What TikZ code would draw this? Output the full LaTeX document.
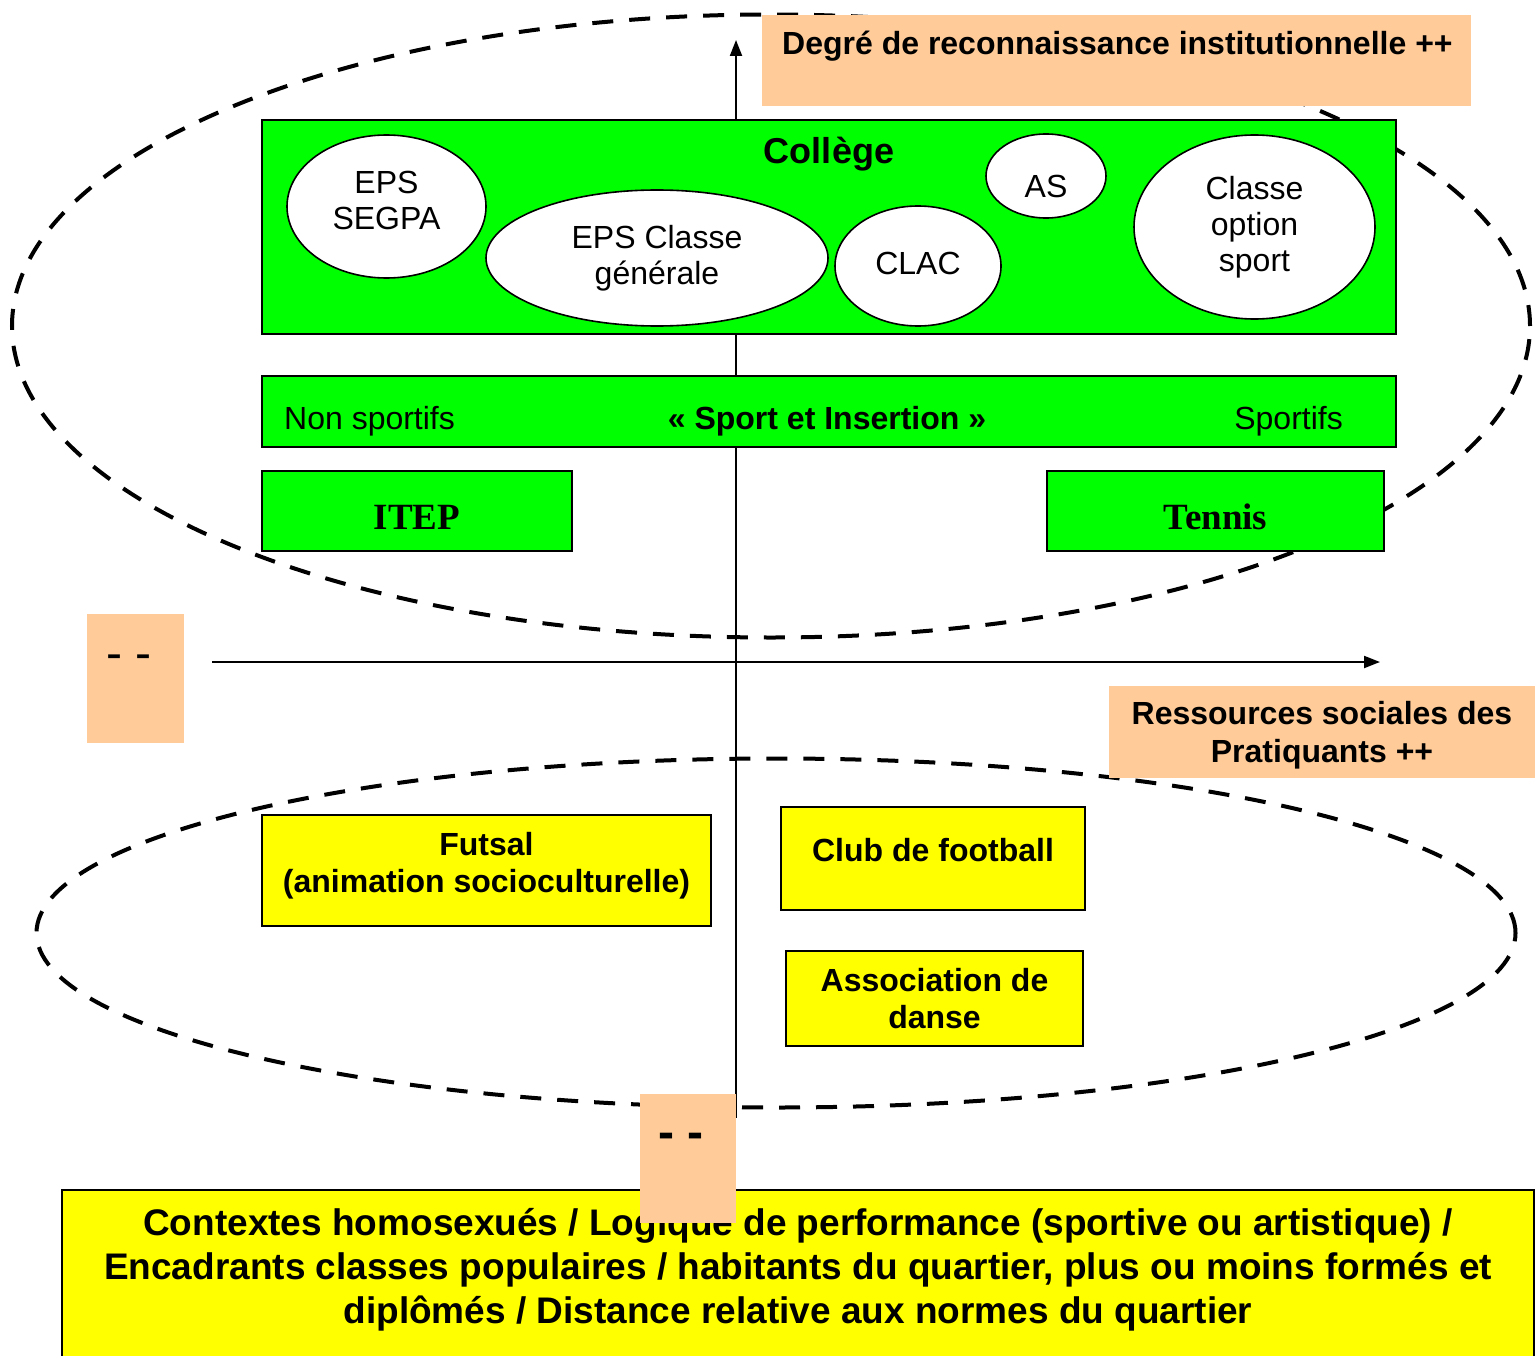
\documentclass[tikz,border=0pt]{standalone}
\usepackage{fontspec}
\setmainfont{Liberation Sans}
\newfontfamily\serifb{Liberation Serif}
\usetikzlibrary{arrows.meta,shapes.geometric}
\definecolor{vert}{HTML}{00FF00}
\definecolor{jaune}{HTML}{FFFF00}
\definecolor{orangec}{HTML}{FFCC99}
\begin{document}
\begin{tikzpicture}[x=1pt,y=-1pt,
  greenbox/.style={draw=black, line width=2pt, fill=vert, inner sep=0pt},
  yellowbox/.style={draw=black, line width=1.8pt, fill=jaune, inner sep=0pt},
  ytext/.style={inner sep=0pt, align=center, font=\fontsize{32}{37}\selectfont\bfseries},
  orangebox/.style={fill=orangec, inner sep=0pt},
  oval/.style={ellipse, draw=black, line width=1.6pt, fill=white, inner sep=0pt, align=center,
     font=\fontsize{32}{36}\selectfont},
  otext/.style={inner sep=0pt, align=center, font=\fontsize{32}{36}\selectfont},
  serift/.style={inner sep=0pt, font=\fontsize{37}{40}\serifb\bfseries},
  zone/.style={ellipse, draw=black, line width=4pt, dash pattern=on 21pt off 16pt, inner sep=0pt},
  axis/.style={line width=2pt, -{Triangle[length=16pt,width=12pt]}},
  reg/.style={inner sep=0pt, font=\fontsize{32}{38}\selectfont},
  bld/.style={inner sep=0pt, font=\fontsize{32}{38}\selectfont\bfseries},
]
\useasboundingbox (0,0) rectangle (1538,1356);
\fill[white] (0,0) rectangle (1538,1356);

% dashed zones
\node[zone, minimum width=1518pt, minimum height=623pt] (zoneA) at (771,326) {};
\node[zone, minimum width=1479pt, minimum height=349pt] (zoneB) at (776,933) {};

% axes
\coordinate (vbot) at (736,1118);
\coordinate (vtop) at (736,40);
\coordinate (hleft) at (212,662);
\coordinate (hright) at (1380,662);
\draw[axis] (vbot) -- (vtop);
\draw[axis] (hleft) -- (hright);

% college
\node[greenbox, minimum width=1134pt, minimum height=214pt] (college) at (829,227) {};
\node[inner sep=0pt, font=\fontsize{36}{40}\selectfont\bfseries] (collegeT) at (829,154) {Collège};
\node[oval, minimum width=199pt, minimum height=143pt] (segpa) at (386.5,206.5) {};
\node[otext] (segpaT) at (386.5,200.5) {EPS\\SEGPA};
\node[oval, minimum width=342pt, minimum height=136pt] (generale) at (657,258) {EPS Classe\\générale};
\node[oval, minimum width=166pt, minimum height=120pt] (clac) at (918,266) {};
\node[otext] (clacT) at (918,263) {CLAC};
\node[oval, minimum width=120pt, minimum height=84pt] (as) at (1046,176) {};
\node[otext] (asT) at (1046,186) {AS};
\node[oval, minimum width=241pt, minimum height=184pt] (option) at (1254.5,227) {Classe\\option\\sport};

% sport et insertion
\node[greenbox, minimum width=1134pt, minimum height=71pt] (insertion) at (829,411.5) {};
\node[reg, anchor=base west] (nonsp) at (284,429) {Non sportifs};
\node[bld, anchor=base] (seti) at (827,429) {« Sport et Insertion »};
\node[reg, anchor=base east] (sp) at (1343,429) {Sportifs};

% ITEP / Tennis
\node[greenbox, minimum width=310pt, minimum height=80pt] (itep) at (417,511) {};
\node[serift] (itepT) at (417,517) {ITEP};
\node[greenbox, minimum width=337pt, minimum height=80pt] (tennis) at (1215.5,511) {};
\node[serift] (tennisT) at (1215.5,517) {Tennis};

% yellow boxes
\node[yellowbox, minimum width=449pt, minimum height=111pt] (futsal) at (486.5,870.5) {};
\node[ytext] (futsalT) at (486.5,866) {Futsal\\(animation socioculturelle)};
\node[yellowbox, minimum width=304pt, minimum height=103pt] (club) at (933,858.5) {};
\node[ytext] (clubT) at (933,850) {Club de football};
\node[yellowbox, minimum width=297pt, minimum height=95pt] (danse) at (934.5,998.5) {};
\node[ytext] (danseT) at (934.5,999) {Association de\\danse};

% bottom box
\node[draw=black, line width=2pt, fill=jaune, minimum width=1472pt, minimum height=180pt] (bottom) at (798,1280) {};
\node[inner sep=0pt, align=center, font=\fontsize{37}{44}\selectfont\bfseries] (bottomT) at (798,1270)
  {Contextes homosexués / Logique de performance (sportive ou artistique) /\\
   Encadrants classes populaires / habitants du quartier, plus ou moins formés et\\
   diplômés / Distance relative aux normes du quartier};

% orange boxes
\node[orangebox, minimum width=709pt, minimum height=91pt] (degre) at (1116.5,60.5) {};
\node[bld, anchor=base west] (degreT) at (782,55) {Degré de reconnaissance institutionnelle ++};
\node[orangebox, minimum width=97pt, minimum height=129pt] (moinsA) at (135.5,678.5) {};
\node[inner sep=0pt, anchor=base west, font=\fontsize{48}{50}\selectfont] (moinsAT) at (106,669) {- -};
\node[orangebox, minimum width=426pt, minimum height=92pt] (ress) at (1322,732) {};
\node[ytext] (ressT) at (1322,735) {Ressources sociales des\\[1pt]Pratiquants ++};
\node[orangebox, minimum width=96pt, minimum height=129pt] (moinsB) at (688,1158.5) {};
\node[inner sep=0pt, anchor=base west, font=\fontsize{48}{50}\selectfont\bfseries] (moinsBT) at (658,1148) {- -};
\end{tikzpicture}
\end{document}
